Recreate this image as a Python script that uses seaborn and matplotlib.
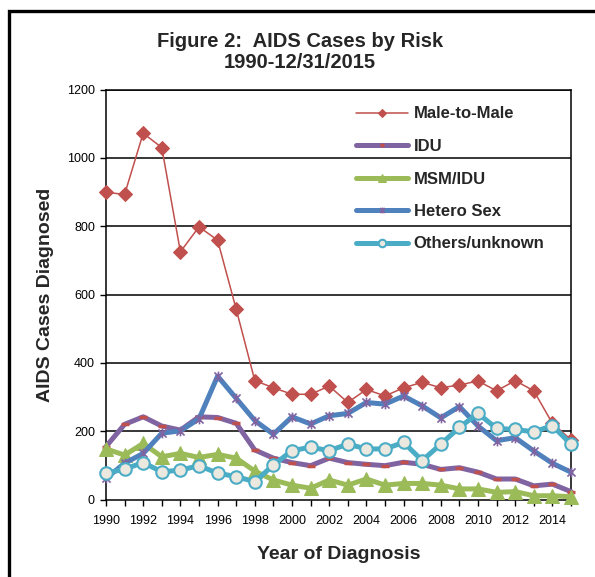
import numpy as np
import pandas as pd
import matplotlib
matplotlib.use("Agg")
import matplotlib.pyplot as plt
from matplotlib.path import Path
from matplotlib.patches import Rectangle
import seaborn as sns

years = list(range(1990, 2016))
male_to_male = [899, 893, 1072, 1030, 725, 798, 759, 557, 348, 327, 308, 308, 332, 284,
                322, 303, 327, 343, 327, 335, 347, 318, 348, 318, 223, 175]
idu = [155, 220, 242, 215, 203, 242, 240, 223, 145, 121, 108, 99, 121, 108,
       103, 99, 109, 103, 88, 93, 80, 60, 60, 40, 45, 23]
msm_idu = [148, 130, 164, 125, 135, 123, 132, 121, 83, 57, 42, 33, 57, 42,
           60, 42, 47, 47, 42, 31, 31, 21, 23, 11, 11, 8]
hetero_sex = [62, 106, 135, 194, 201, 236, 361, 296, 231, 191, 242, 221, 245, 252,
              284, 279, 303, 274, 239, 272, 215, 172, 181, 142, 106, 80]
others = [77, 89, 108, 81, 86, 99, 77, 67, 52, 101, 143, 153, 143, 162,
          148, 148, 167, 114, 162, 211, 252, 208, 205, 198, 216, 162]

series_names = ["Male-to-Male", "IDU", "MSM/IDU", "Hetero Sex", "Others/unknown"]
series_values = [male_to_male, idu, msm_idu, hetero_sex, others]

title_text = "Figure 2:  AIDS Cases by Risk\n1990-12/31/2015"
xlabel_text = "Year of Diagnosis"
ylabel_text = "AIDS Cases Diagnosed"
yticks = [0, 200, 400, 600, 800, 1000, 1200]
xticks = list(range(1990, 2016, 2))

sns.set_theme(style="white")
plt.rcParams['font.family'] = ['Liberation Sans', 'DejaVu Sans']
narrow = ['Liberation Sans Narrow', 'Liberation Sans', 'DejaVu Sans']

fig = plt.figure(figsize=(5.95, 5.77), dpi=100)
W, H = 595, 577
ax = fig.add_axes([106 / W, 1 - 499.5 / H, (571 - 106) / W, (499.5 - 89.5) / H])

# Excel-like star marker (X with vertical bar)
star = Path([(-1, -1), (1, 1), (-1, 1), (1, -1), (0, -1.2), (0, 1.2)],
            [Path.MOVETO, Path.LINETO, Path.MOVETO, Path.LINETO, Path.MOVETO, Path.LINETO])

styles = [
    dict(color="#C0504D", lw=1.1, marker="D", markersize=7, markerfacecolor="#C0504D",
         markeredgecolor="#C0504D"),
    dict(color="#8064A2", lw=3.6, marker="_", markersize=6, markeredgewidth=2.5,
         markeredgecolor="#C0504D"),
    dict(color="#9BBB59", lw=3.6, marker="^", markersize=10, markerfacecolor="#9BBB59",
         markeredgecolor="#9BBB59"),
    dict(color="#4F81BD", lw=3.6, marker=star, markersize=7, markerfacecolor="none",
         markeredgecolor="#8064A2", markeredgewidth=1.2),
    dict(color="#4BACC6", lw=3.6, marker="o", markersize=9, markerfacecolor="#EAE8DF",
         markeredgecolor="#4BACC6", markeredgewidth=1.5),
]

for name, vals, st in zip(series_names, series_values, styles):
    df = pd.DataFrame({"Year": years, "Cases": vals})
    sns.lineplot(data=df, x="Year", y="Cases", ax=ax, label=name, clip_on=False,
                 zorder=3, **st)

ax.set_xlim(1990, 2015)
ax.set_ylim(0, 1200)
ax.set_yticks(yticks)
ax.set_yticklabels([str(v) for v in yticks])
ax.set_xticks(xticks)
ax.set_xticklabels([str(v) for v in xticks])
ax.set_xticks(years, minor=True)
ax.tick_params(axis="both", which="both", direction="out", length=4, width=1,
               color="black", labelsize=9, labelcolor="black", pad=4)
ax.tick_params(axis="x", which="major", pad=7)
ax.tick_params(axis="x", which="minor", bottom=True)
ax.tick_params(axis="both", which="major", bottom=True, left=True)
for v in yticks[1:]:
    ax.axhline(v, color="black", lw=1.1, zorder=1)
for s in ax.spines.values():
    s.set_visible(True)
    s.set_color("black")
    s.set_linewidth(1.1)

ax.set_xlabel(xlabel_text, fontsize=14, fontweight="bold", labelpad=14)
ax.set_ylabel(ylabel_text, fontsize=14, fontweight="bold", labelpad=9)

fig.text(300 / W, 1 - 52 / H, title_text, ha="center", va="center", fontsize=14.5,
         fontweight="bold", family=narrow, linespacing=1.15)

leg = ax.legend(loc="upper left", bbox_to_anchor=(356 / W, 1 - 106.5 / H),
                bbox_transform=fig.transFigure, frameon=False, borderpad=0,
                borderaxespad=0, handlelength=3.1, handletextpad=0.35,
                labelspacing=1.05, markerscale=0.6,
                prop=dict(family=narrow, weight="bold", size=12))

fig.patches.append(Rectangle((8.5 / W, -0.1), 1.2, 1.1 - 11 / H, transform=fig.transFigure,
                             fill=False, edgecolor="black", lw=2.4))

fig.savefig("out.png", dpi=100)
